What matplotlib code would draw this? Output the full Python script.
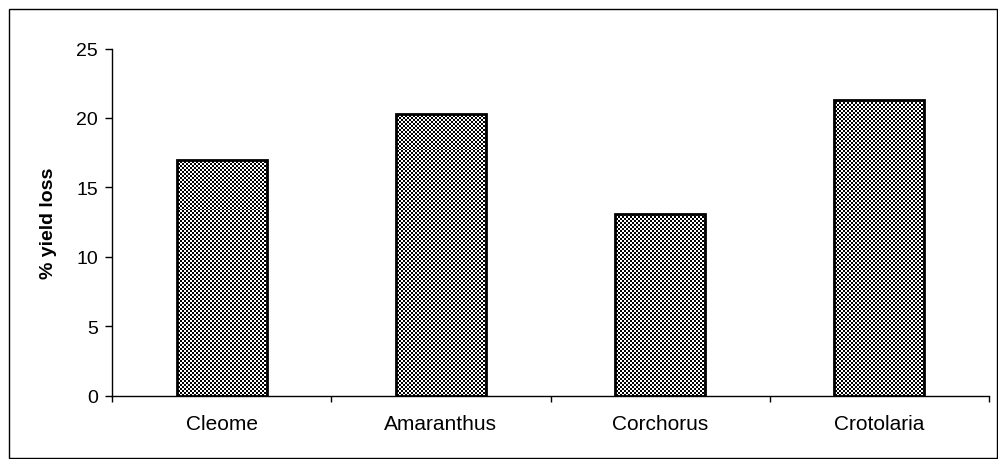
import numpy as np
import matplotlib
matplotlib.use("Agg")
import matplotlib.pyplot as plt
from matplotlib.patches import Rectangle

# data
crops = ["Cleome", "Amaranthus", "Corchorus", "Crotolaria"]
yield_loss = [17.0, 20.3, 13.1, 21.3]
y_ticks = [0, 5, 10, 15, 20, 25]

plt.rcParams['font.family'] = ['Liberation Sans', 'DejaVu Sans']

fig = plt.figure(figsize=(9.98, 4.6), dpi=100)
ax = fig.add_axes([112 / 998, (460 - 396.5) / 460, 877 / 998, 347 / 460])

x = np.arange(len(crops))
bars = ax.bar(x, yield_loss, width=0.41, facecolor="none",
              edgecolor="black", linewidth=2, zorder=3)

# checkerboard fill, 2px cells, clipped to each bar
ny, nx = 174, 440
checker = (np.add.outer(np.arange(ny), np.arange(nx)) % 2).astype(float)
for b in bars:
    im = ax.imshow(checker, cmap="gray", vmin=0, vmax=1, interpolation="nearest",
                   extent=[-0.5, len(crops) - 0.5, 0, 25], aspect="auto", zorder=2)
    im.set_clip_path(b)
ax.set_xlim(-0.5, len(crops) - 0.5)
ax.set_ylim(0, 25)

# axes styling
ax.spines['top'].set_visible(False)
ax.spines['right'].set_visible(False)
ax.spines['left'].set_linewidth(1)
ax.spines['bottom'].set_linewidth(1)

ax.set_yticks(y_ticks)
ax.tick_params(axis='y', direction='out', length=5, width=1, pad=5, labelsize=14)

ax.set_xticks(np.arange(len(crops) + 1) - 0.5)
ax.set_xticklabels([])
ax.tick_params(axis='x', which='major', direction='out', length=4, width=1)
ax.set_xticks(x, minor=True)
ax.set_xticklabels(crops, minor=True)
ax.tick_params(axis='x', which='minor', length=0, pad=13, labelsize=15)

ax.set_ylabel("% yield loss", fontsize=14, fontweight="bold")
ax.yaxis.set_label_coords(-55 / 877, 0.5)

# outer border of the chart area
fig.patches.append(Rectangle((9 / 998, 1 / 460), 988 / 998, 449 / 460,
                             transform=fig.transFigure, fill=False,
                             edgecolor="black", linewidth=1))

fig.savefig("out.png", dpi=100)
